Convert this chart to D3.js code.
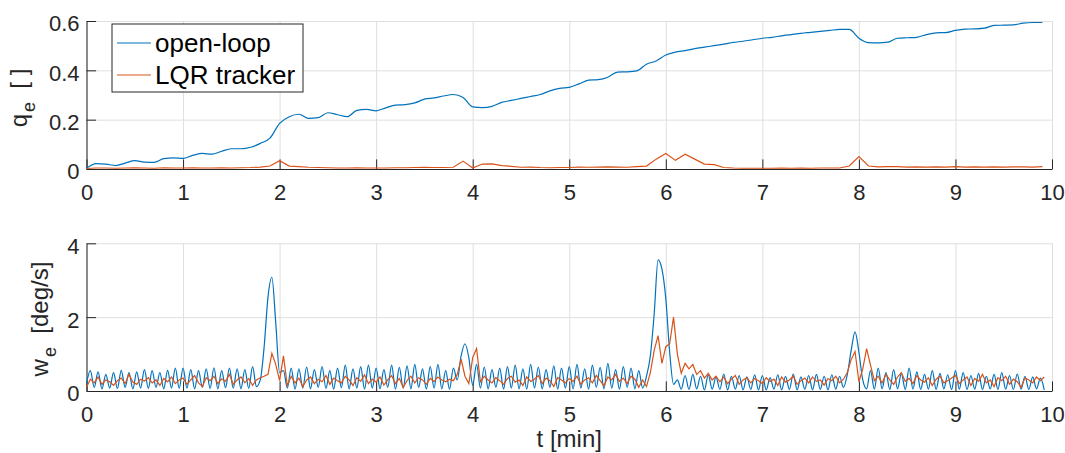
<!DOCTYPE html>
<html>
<head>
<meta charset="utf-8">
<script src="https://cdn.jsdelivr.net/npm/d3@7"></script>
<style>
    body { margin: 0; background: #fff; }
    svg { display: block; font-family: "Liberation Sans", Arial, Helvetica, sans-serif; }
</style>
</head>
<body>
<div id="chart"></div>
<script>
// Data
const t_ticks = [0, 1, 2, 3, 4, 5, 6, 7, 8, 9, 10];
const q_ticks = [0, 0.2, 0.4, 0.6];
const w_ticks = [0, 2, 4];
const series_names = ['open-loop', 'LQR tracker'];

// sample step [min] of each log
const q_dt = 0.1;
const w_dt = 0.04;

// attitude error q_e [ ]
const q_open = [
    0.003, 0.022, 0.020, 0.014, 0.024, 0.034, 0.028, 0.027, 0.042, 0.045,
    0.043, 0.055, 0.063, 0.060, 0.072, 0.082, 0.082, 0.088, 0.104, 0.125,
    0.185, 0.212, 0.222, 0.205, 0.208, 0.228, 0.220, 0.212, 0.238, 0.242,
    0.236, 0.248, 0.259, 0.261, 0.268, 0.283, 0.288, 0.296, 0.302, 0.290,
    0.252, 0.249, 0.254, 0.270, 0.278, 0.286, 0.294, 0.302, 0.317, 0.327,
    0.331, 0.345, 0.360, 0.362, 0.372, 0.393, 0.394, 0.398, 0.425, 0.438,
    0.462, 0.474, 0.480, 0.488, 0.494, 0.500, 0.506, 0.513, 0.518, 0.524,
    0.530, 0.534, 0.540, 0.545, 0.550, 0.554, 0.558, 0.562, 0.566, 0.566,
    0.530, 0.512, 0.511, 0.514, 0.530, 0.532, 0.534, 0.545, 0.552, 0.553,
    0.562, 0.567, 0.568, 0.571, 0.582, 0.583, 0.584, 0.591, 0.594, 0.594
];
const q_lqr = [
    0.002, 0.004, 0.004, 0.003, 0.004, 0.005, 0.004, 0.003, 0.005, 0.004,
    0.004, 0.005, 0.004, 0.004, 0.005, 0.004, 0.005, 0.006, 0.008, 0.012,
    0.034, 0.012, 0.010, 0.007, 0.006, 0.005, 0.004, 0.004, 0.005, 0.004,
    0.004, 0.004, 0.005, 0.005, 0.006, 0.007, 0.006, 0.006, 0.007, 0.032,
    0.004, 0.020, 0.021, 0.014, 0.011, 0.007, 0.008, 0.006, 0.005, 0.006,
    0.006, 0.008, 0.007, 0.008, 0.009, 0.008, 0.007, 0.010, 0.012, 0.040,
    0.063, 0.035, 0.060, 0.040, 0.020, 0.018, 0.006, 0.004, 0.003, 0.003,
    0.003, 0.003, 0.004, 0.003, 0.004, 0.003, 0.004, 0.004, 0.004, 0.012,
    0.050, 0.012, 0.009, 0.010, 0.010, 0.008, 0.009, 0.008, 0.009, 0.008,
    0.010, 0.008, 0.009, 0.008, 0.009, 0.008, 0.009, 0.009, 0.008, 0.010
];

// angular rate error w_e [deg/s]
const w_open = [
    0.20, 0.55, 0.10, 0.52, 0.06, 0.45, 0.08, 0.50, 0.07, 0.56, 0.10, 0.50, 0.06, 0.52, 0.08, 0.58, 0.07, 0.55, 0.10, 0.50, 0.06, 0.56, 0.08, 0.62, 0.07,
    0.62, 0.08, 0.58, 0.06, 0.55, 0.10, 0.60, 0.07, 0.63, 0.06, 0.55, 0.09, 0.62, 0.08, 0.60, 0.06, 0.58, 0.07, 0.66, 0.12, 0.30, 1.20, 2.55, 3.08, 1.85,
    0.50, 0.55, 0.08, 0.62, 0.05, 0.60, 0.08, 0.65, 0.06, 0.58, 0.10, 0.66, 0.07, 0.55, 0.05, 0.62, 0.09, 0.70, 0.06, 0.60, 0.08, 0.66, 0.05, 0.70, 0.08,
    0.62, 0.06, 0.58, 0.10, 0.70, 0.05, 0.64, 0.08, 0.68, 0.06, 0.72, 0.10, 0.60, 0.05, 0.66, 0.08, 0.72, 0.06, 0.55, 0.05, 0.62, 0.30, 0.95, 1.28, 0.90,
    0.15, 0.72, 0.08, 0.65, 0.06, 0.58, 0.10, 0.62, 0.05, 0.66, 0.08, 0.70, 0.06, 0.60, 0.05, 0.72, 0.08, 0.65, 0.06, 0.58, 0.10, 0.68, 0.05, 0.62, 0.08,
    0.66, 0.06, 0.72, 0.08, 0.60, 0.05, 0.70, 0.10, 0.64, 0.06, 0.75, 0.08, 0.58, 0.05, 0.66, 0.10, 0.62, 0.06, 0.55, 0.08, 0.40, 0.95, 2.10, 3.55, 3.30,
    2.50, 1.05, 0.18, 0.30, 0.05, 0.42, 0.04, 0.45, 0.06, 0.40, 0.03, 0.44, 0.05, 0.38, 0.04, 0.46, 0.03, 0.40, 0.05, 0.42, 0.03, 0.38, 0.04, 0.44, 0.03,
    0.42, 0.03, 0.36, 0.05, 0.44, 0.03, 0.40, 0.04, 0.46, 0.03, 0.38, 0.05, 0.42, 0.03, 0.45, 0.04, 0.40, 0.03, 0.44, 0.05, 0.40, 0.10, 0.45, 1.10, 1.60,
    1.05, 0.30, 0.06, 0.55, 0.05, 0.62, 0.06, 0.50, 0.04, 0.58, 0.06, 0.48, 0.04, 0.62, 0.05, 0.52, 0.04, 0.45, 0.05, 0.55, 0.04, 0.48, 0.06, 0.44, 0.04,
    0.55, 0.05, 0.50, 0.04, 0.42, 0.05, 0.48, 0.04, 0.40, 0.06, 0.45, 0.04, 0.50, 0.05, 0.42, 0.04, 0.46, 0.05, 0.40, 0.04, 0.38, 0.06, 0.35, 0.03
];
const w_lqr = [
    0.10, 0.32, 0.22, 0.38, 0.18, 0.30, 0.25, 0.15, 0.28, 0.35, 0.20, 0.45, 0.24, 0.18, 0.32, 0.27, 0.36, 0.22, 0.30, 0.15, 0.34, 0.25, 0.38, 0.20, 0.30,
    0.35, 0.18, 0.30, 0.42, 0.22, 0.12, 0.36, 0.28, 0.40, 0.20, 0.33, 0.26, 0.45, 0.18, 0.30, 0.38, 0.22, 0.34, 0.15, 0.30, 0.36, 0.40, 0.45, 1.02, 0.72,
    0.28, 0.95, 0.15, 0.40, 0.22, 0.35, 0.12, 0.30, 0.38, 0.20, 0.32, 0.25, 0.42, 0.18, 0.35, 0.28, 0.22, 0.40, 0.30, 0.15, 0.36, 0.26, 0.44, 0.20, 0.32,
    0.24, 0.38, 0.16, 0.30, 0.42, 0.20, 0.34, 0.10, 0.28, 0.40, 0.22, 0.36, 0.30, 0.18, 0.34, 0.26, 0.38, 0.30, 0.25, 0.32, 0.28, 0.45, 0.86, 0.40, 0.20,
    0.90, 1.15, 0.25, 0.40, 0.30, 0.22, 0.36, 0.28, 0.18, 0.34, 0.40, 0.24, 0.30, 0.15, 0.38, 0.26, 0.32, 0.42, 0.20, 0.35, 0.28, 0.12, 0.36, 0.30, 0.22,
    0.34, 0.26, 0.40, 0.18, 0.30, 0.36, 0.22, 0.42, 0.28, 0.14, 0.38, 0.30, 0.45, 0.26, 0.35, 0.20, 0.40, 0.32, 0.10, 0.30, 0.12, 0.50, 1.10, 1.50, 0.75,
    1.20, 1.28, 2.00, 1.00, 0.48, 0.75, 0.60, 0.72, 0.45, 0.55, 0.35, 0.48, 0.30, 0.40, 0.25, 0.38, 0.20, 0.32, 0.42, 0.18, 0.30, 0.36, 0.22, 0.34, 0.28,
    0.20, 0.36, 0.26, 0.32, 0.15, 0.38, 0.24, 0.30, 0.40, 0.18, 0.28, 0.35, 0.22, 0.38, 0.26, 0.30, 0.16, 0.34, 0.28, 0.40, 0.22, 0.32, 0.50, 0.85, 1.07,
    0.25, 0.60, 1.15, 0.70, 0.28, 0.40, 0.22, 0.45, 0.30, 0.18, 0.38, 0.50, 0.26, 0.34, 0.20, 0.42, 0.30, 0.24, 0.36, 0.15, 0.32, 0.40, 0.22, 0.28, 0.35,
    0.42, 0.20, 0.30, 0.38, 0.15, 0.34, 0.26, 0.45, 0.22, 0.30, 0.12, 0.36, 0.28, 0.40, 0.18, 0.32, 0.25, 0.10, 0.35, 0.30, 0.22, 0.38, 0.28, 0.38
];

const chart_width = 1065;
const chart_height = 453;
const colors = ['#0072bd', '#d95319'];
const axis_color = '#262626';
const grid_color = '#dfdfdf';
const tick_len = 9.6;

// Scales
const x_scale = d3.scaleLinear()
    .domain([0, 10])
    .range([86.5, 1052]);

const y_top = d3.scaleLinear()
    .domain([0, 0.6])
    .range([169, 21]);

const y_bot = d3.scaleLinear()
    .domain([0, 4])
    .range([391, 243.3]);

// Create SVG
const svg = d3.select('#chart')
    .append('svg')
    .attr('width', chart_width)
    .attr('height', chart_height);

function draw_panel(y_scale, y_ticks, series, dt, curves, label) {
    const [y0, y1] = y_scale.range();
    const [x0, x1] = x_scale.range();
    const g = svg.append('g');

    // grid
    g.append('g')
        .attr('transform', `translate(0, ${y0})`)
        .call(d3.axisBottom(x_scale).tickValues(t_ticks).tickSize(-(y0 - y1)).tickFormat(''))
        .call(a => a.select('.domain').remove())
        .call(a => a.selectAll('line').attr('stroke', grid_color));
    g.append('g')
        .attr('transform', `translate(${x0}, 0)`)
        .call(d3.axisLeft(y_scale).tickValues(y_ticks).tickSize(-(x1 - x0)).tickFormat(''))
        .call(a => a.select('.domain').remove())
        .call(a => a.selectAll('line').attr('stroke', grid_color));

    // axes, ticks inside
    g.append('g')
        .attr('transform', `translate(0, ${y0})`)
        .call(d3.axisBottom(x_scale).tickValues(t_ticks).tickSize(-tick_len)
            .tickSizeOuter(0).tickPadding(15).tickFormat(d => String(d)))
        .call(a => a.selectAll('path, line').attr('stroke', axis_color))
        .call(a => a.selectAll('text').attr('fill', axis_color)
            .attr('font-size', 22).attr('font-family', null));
    g.append('g')
        .attr('transform', `translate(${x0}, 0)`)
        .call(d3.axisLeft(y_scale).tickValues(y_ticks).tickSize(-tick_len)
            .tickSizeOuter(0).tickPadding(7).tickFormat(d => String(d)))
        .call(a => a.selectAll('path, line').attr('stroke', axis_color))
        .call(a => a.selectAll('text').attr('fill', axis_color)
            .attr('font-size', 22).attr('font-family', null).attr('dy', '0.45em'));

    // lines
    series.forEach((values, k) => {
        const line = d3.line()
            .x((d, i) => x_scale(i * dt))
            .y(d => y_scale(d))
            .curve(curves[k]);
        g.append('path')
            .datum(values)
            .attr('fill', 'none')
            .attr('stroke', colors[k])
            .attr('stroke-width', 1.2)
            .attr('d', line);
    });

    // y label with subscript
    const text = g.append('text')
        .attr('transform', `translate(${label.x}, ${label.y}) rotate(-90)`)
        .attr('text-anchor', 'middle')
        .attr('font-size', 24)
        .attr('fill', axis_color);
    text.append('tspan').text(label.main);
    text.append('tspan').attr('font-size', 18).attr('dx', 2).attr('dy', 8).text(label.sub);
    text.append('tspan').attr('dy', -8).text('\u00a0\u00a0' + label.unit);
}

draw_panel(y_top, q_ticks, [q_open, q_lqr], q_dt,
    [d3.curveMonotoneX, d3.curveLinear],
    {x: 27, y: 98, main: 'q', sub: 'e', unit: '[ ]'});

draw_panel(y_bot, w_ticks, [w_open, w_lqr], w_dt,
    [d3.curveMonotoneX, d3.curveLinear],
    {x: 48, y: 319, main: 'w', sub: 'e', unit: '[deg/s]'});

// x label
svg.append('text')
    .attr('x', (x_scale.range()[0] + x_scale.range()[1]) / 2)
    .attr('y', 447)
    .attr('text-anchor', 'middle')
    .attr('font-size', 24)
    .attr('fill', axis_color)
    .text('t [min]');

// Legend
const legend = svg.append('g');
legend.append('rect')
    .attr('x', 112)
    .attr('y', 24)
    .attr('width', 191)
    .attr('height', 68)
    .attr('fill', '#fff')
    .attr('stroke', axis_color);

series_names.forEach((name, k) => {
    const cy = 43 + k * 32;
    legend.append('line')
        .attr('x1', 117).attr('x2', 151)
        .attr('y1', cy).attr('y2', cy)
        .attr('stroke', colors[k])
        .attr('stroke-width', 1.2);
    legend.append('text')
        .attr('x', 155)
        .attr('y', cy + 9)
        .attr('font-size', 26)
        .attr('fill', '#000')
        .text(name);
});
</script>
</body>
</html>
